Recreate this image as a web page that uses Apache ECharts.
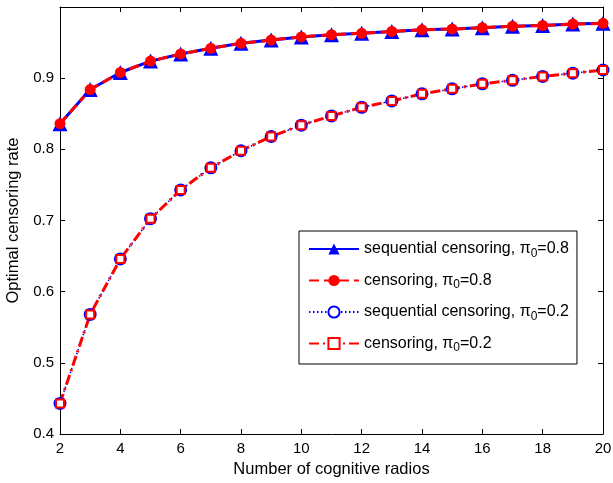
<!DOCTYPE html>
<html>
<head>
<meta charset="utf-8">
<script src="https://cdn.jsdelivr.net/npm/echarts@6/dist/echarts.min.js"></script>
<style>
html,body{margin:0;padding:0;background:#fff;}
#chart{width:613px;height:483px;}
</style>
</head>
<body>
<div id="chart"></div>
<script>
const xValues = [2,3,4,5,6,7,8,9,10,11,12,13,14,15,16,17,18,19,20];
const seqCens08 = [0.836,0.884,0.908,0.924,0.934,0.942,0.949,0.9535,0.958,0.961,0.963,0.9656,0.968,0.969,0.971,0.973,0.974,0.976,0.977];
const cens08    = [0.836,0.884,0.908,0.924,0.934,0.942,0.949,0.9535,0.958,0.961,0.963,0.9656,0.968,0.969,0.971,0.973,0.974,0.976,0.977];
const seqCens02 = [0.443,0.568,0.646,0.7025,0.743,0.774,0.798,0.818,0.834,0.847,0.859,0.868,0.878,0.885,0.892,0.897,0.9025,0.907,0.9115];
const cens02    = [0.443,0.568,0.646,0.7025,0.743,0.774,0.798,0.818,0.834,0.847,0.859,0.868,0.878,0.885,0.892,0.897,0.9025,0.907,0.9115];
const seriesNames = ['sequential censoring, π0=0.8','censoring, π0=0.8','sequential censoring, π0=0.2','censoring, π0=0.2'];
const xTicks = [2,4,6,8,10,12,14,16,18,20];
const yTicks = [0.4,0.5,0.6,0.7,0.8,0.9];

const pair = arr => xValues.map((x,i)=>[x,arr[i]]);
const FONT = 'Liberation Sans, Arial, Helvetica, sans-serif';

const chart = echarts.init(document.getElementById('chart'), null, {renderer:'canvas'});
const axisCommon = {
  axisLine:{show:true,lineStyle:{color:'#000',width:1}},
  axisTick:{show:true,inside:true,length:5,lineStyle:{color:'#000'}},
  splitLine:{show:false},
};
chart.setOption({
  animation:false,
  backgroundColor:'#fff',
  grid:{left:60,right:10,top:7,bottom:49,containLabel:false,outerBoundsMode:'none'},
  xAxis:[
    Object.assign({type:'value',min:2,max:20,interval:2,position:'bottom',
      name:'Number of cognitive radios',nameLocation:'middle',nameGap:27,
      nameTextStyle:{color:'#000',fontSize:16.5,fontFamily:FONT},
      axisLabel:{color:'#000',fontSize:15,fontFamily:FONT,margin:7,
        formatter:v=>xTicks.includes(v)?String(v):''}},axisCommon),
    Object.assign({type:'value',min:2,max:20,interval:2,position:'top',axisLabel:{show:false}},axisCommon)
  ],
  yAxis:[
    Object.assign({type:'value',min:0.4,max:1.0,interval:0.1,position:'left',
      name:'Optimal censoring rate',nameLocation:'middle',nameGap:32,
      nameTextStyle:{color:'#000',fontSize:16.5,fontFamily:FONT},
      axisLabel:{color:'#000',fontSize:15,fontFamily:FONT,margin:6,
        formatter:v=>{const r=Math.round(v*10)/10;return yTicks.some(t=>Math.abs(t-r)<1e-9)?r.toFixed(1):'';}}},axisCommon),
    Object.assign({type:'value',min:0.4,max:1.0,interval:0.1,position:'right',axisLabel:{show:false}},axisCommon)
  ],
  legend:{
    orient:'vertical',left:299,top:231,
    data:seriesNames,
    itemWidth:50,itemHeight:14,itemGap:13,
    padding:[10,8,10,9],
    borderColor:'#000',borderWidth:1,backgroundColor:'#fff',
    formatter:n=>n.replace('π0','π{sub|0}'),
    textStyle:{color:'#000',fontSize:16,fontFamily:FONT,
      rich:{sub:{fontSize:12,fontFamily:FONT,verticalAlign:'bottom',padding:[9,0,0,0]}}}
  },
  series:[
    {name:seriesNames[0],type:'line',data:pair(seqCens08),
      symbol:'triangle',symbolSize:15,
      itemStyle:{color:'#0000ff'},lineStyle:{color:'#0000ff',width:3,type:'solid'}},
    {name:seriesNames[1],type:'line',data:pair(cens08),
      symbol:'circle',symbolSize:11,
      itemStyle:{color:'#ff0000'},lineStyle:{color:'#ff0000',width:3,type:[10,5]}},
    {name:seriesNames[2],type:'line',data:pair(seqCens02),
      symbol:'emptyCircle',symbolSize:11,
      itemStyle:{color:'#0000ff',borderColor:'#0000ff',borderWidth:2.5},lineStyle:{color:'#0000ff',width:1.5,type:[1.5,2.5]}},
    {name:seriesNames[3],type:'line',data:pair(cens02),
      symbol:'emptyRect',symbolSize:8,
      itemStyle:{color:'#ff0000',borderColor:'#ff0000',borderWidth:3},lineStyle:{color:'#ff0000',width:3,type:[10,4,2,4]}}
  ]
});
</script>
</body>
</html>
